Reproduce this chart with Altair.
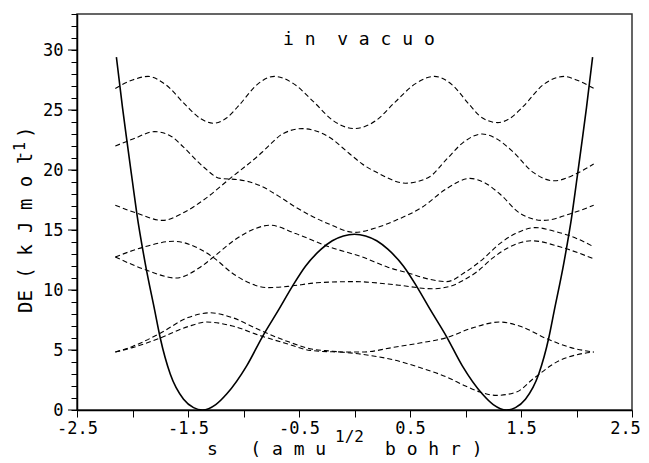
import altair as alt
import pandas as pd

NB = "\u00a0"

# ---------------- data ----------------
solid_s = [-2.145, -2.09, -2.05, -2.0, -1.96, -1.885, -1.80, -1.75, -1.66, -1.54, -1.45, -1.37,
           -1.25, -1.15, -0.97, -0.83, -0.68, -0.56, -0.44, -0.30, -0.20, -0.10, 0.0,
           0.10, 0.20, 0.30, 0.44, 0.56, 0.68, 0.83, 0.97, 1.15, 1.25, 1.37, 1.45, 1.54,
           1.66, 1.75, 1.80, 1.885, 1.96, 2.0, 2.05, 2.09, 2.145]
solid_E = [29.4, 25.2, 22.4, 19.0, 16.3, 12.2, 8.3, 6.0, 3.0, 0.9, 0.2, 0.0,
           0.45, 1.35, 3.7, 6.1, 8.4, 10.3, 12.0, 13.4, 14.1, 14.5, 14.64,
           14.5, 14.1, 13.4, 12.0, 10.3, 8.4, 6.1, 3.7, 1.35, 0.45, 0.0, 0.2, 0.9,
           3.0, 6.0, 8.3, 12.2, 16.3, 19.0, 22.4, 25.2, 29.4]

a_s = [-2.155, -2.0, -1.86, -1.7, -1.51, -1.39, -1.27, -1.15, -1.03, -0.88, -0.72, -0.55, -0.37,
       -0.19, 0.0, 0.19, 0.37, 0.55, 0.72, 0.88, 1.03, 1.15, 1.29, 1.40, 1.52, 1.7, 1.89, 2.0, 2.155]
a_E = [26.8, 27.5, 27.8, 27.1, 25.3, 24.3, 23.9, 24.35, 25.5, 27.1, 27.8, 27.2, 25.7,
       24.1, 23.45, 24.1, 25.7, 27.2, 27.8, 27.1, 25.5, 24.35, 23.95, 24.3, 25.3, 27.1, 27.8, 27.5, 26.8]

b_s = [-2.155, -1.99, -1.80, -1.65, -1.54, -1.36, -1.21, -1.05, -0.85, -0.68, -0.53, -0.23, 0.0,
       0.2, 0.37, 0.61, 0.83, 1.04, 1.18, 1.31, 1.49, 1.70, 1.96, 2.155]
b_E = [22.0, 22.6, 23.2, 22.8, 21.9, 20.25, 19.3, 19.2, 18.7, 17.8, 16.9, 15.5, 14.8,
       15.2, 15.8, 16.9, 18.45, 19.3, 18.9, 18.0, 16.4, 15.8, 16.4, 17.06]

c_s = [-2.155, -1.96, -1.73, -1.55, -1.36, -1.12, -0.83, -0.74, -0.65, -0.47, -0.23, -0.05, 0.07,
       0.22, 0.46, 0.67, 0.83, 0.98, 1.15, 1.28, 1.43, 1.61, 1.80, 2.0, 2.155]
c_E = [17.06, 16.4, 15.8, 16.4, 17.5, 19.3, 21.5, 22.3, 23.0, 23.45, 22.75, 21.4, 20.5,
       19.7, 18.9, 19.4, 20.9, 22.3, 23.0, 22.6, 21.5, 19.8, 19.1, 19.7, 20.5]

d_s = [-2.155, -1.89, -1.63, -1.39, -1.27, -1.1, -0.95, -0.79, -0.6, -0.34, 0.0, 0.4, 0.7,
       0.86, 0.98, 1.1, 1.25, 1.38, 1.6, 1.85, 2.155]
d_E = [12.75, 13.6, 14.06, 13.4, 12.7, 11.4, 10.6, 10.2, 10.3, 10.6, 10.7, 10.4, 10.1,
       10.3, 10.8, 11.5, 12.7, 13.5, 14.1, 13.6, 12.6]

g_s = [-2.155, -1.87, -1.61, -1.39, -1.27, -1.09, -0.90, -0.76, -0.53, -0.23, 0.07, 0.3, 0.49,
       0.65, 0.83, 1.0, 1.16, 1.3, 1.45, 1.63, 1.8, 2.0, 2.155]
g_E = [12.75, 11.64, 11.0, 11.9, 12.75, 14.1, 15.1, 15.4, 14.7, 13.6, 12.75, 11.9, 11.4,
       10.95, 10.7, 11.5, 12.6, 13.8, 14.7, 15.2, 14.9, 14.3, 13.6]

e_s = [-2.155, -2.0, -1.75, -1.5, -1.3, -1.1, -0.85, -0.6, -0.4, -0.2, 0.07, 0.37, 0.6, 0.83,
       1.0, 1.13, 1.28, 1.46, 1.61, 1.85, 2.0, 2.155]
e_E = [4.83, 5.3, 6.4, 7.7, 8.1, 7.7, 6.64, 5.7, 5.1, 4.9, 4.64, 4.14, 3.5, 2.75,
       2.0, 1.5, 1.22, 1.5, 2.6, 4.14, 4.6, 4.83]

f_s = [-2.155, -2.0, -1.75, -1.5, -1.33, -1.1, -0.85, -0.6, -0.4, -0.2, 0.07, 0.37, 0.6, 0.83,
       1.05, 1.31, 1.5, 1.73, 1.95, 2.155]
f_E = [4.83, 5.2, 6.0, 6.95, 7.33, 7.0, 6.2, 5.5, 4.97, 4.85, 4.83, 5.25, 5.6, 6.03,
       6.8, 7.33, 6.95, 5.95, 5.2, 4.83]

x_ticks = [-2.5, -2.0, -1.5, -1.0, -0.5, 0.0, 0.5, 1.0, 1.5, 2.0, 2.5]
y_ticks = list(range(0, 34))
y_major = [0, 5, 10, 15, 20, 25, 30]

title_text = NB.join(["i", "n", "", "v", "a", "c", "u", "o"])
xtitle_a = "s" + NB * 3 + "(" + NB + NB.join(["a", "m", "u"])
xtitle_sup = "1/2"
xtitle_b = NB.join(["b", "o", "h", "r", ")"])
ytitle_a = "DE" + NB + "(" + NB + NB.join(["k", "J", "m", "o", "l"])
ytitle_sup = "-1"
ytitle_c = ")"

# ---------------- build table ----------------
curves = [("solid", solid_s, solid_E), ("A", a_s, a_E), ("B", b_s, b_E), ("C", c_s, c_E),
          ("D", d_s, d_E), ("G", g_s, g_E), ("E", e_s, e_E), ("F", f_s, f_E)]
rows = []
for name, ss, ee in curves:
    assert len(ss) == len(ee), name
    for i, (s, e) in enumerate(zip(ss, ee)):
        rows.append({"curve": name, "s": s, "E": e, "i": i})
df = pd.DataFrame(rows)

FONT = "DejaVu Sans Mono"
xs = alt.Scale(domain=[-2.5, 2.5], nice=False, zero=False)
ys = alt.Scale(domain=[0, 33], nice=False, zero=False)

x_axis = alt.Axis(values=x_ticks, title=None, tickSize=7, labelPadding=3, labelFlush=False,
                  labelOverlap=False,
                  labelOffset={"condition": {"test": "datum.value > 2.4", "value": -7}, "value": 0},
                  labelExpr="abs(round(datum.value*2)) % 2 == 1 ? ((datum.value < 0 ? '-' : '') + format(abs(datum.value), '.1f')) : ''")
y_axis = alt.Axis(values=y_ticks, title=None, tickSize=6, labelPadding=8, labelFlush=False,
                  labelOverlap=False,
                  labelExpr="datum.value % 5 === 0 ? format(datum.value, 'd') : ''")

solid = alt.Chart(df[df.curve == "solid"]).mark_line(
    color="black", strokeWidth=1.6, interpolate="monotone"
).encode(
    x=alt.X("s:Q", scale=xs, axis=x_axis),
    y=alt.Y("E:Q", scale=ys, axis=y_axis),
    order="i:Q",
)

dashed = alt.Chart(df[df.curve != "solid"]).mark_line(
    color="black", strokeWidth=1.1, strokeDash=[5, 3], interpolate="monotone"
).encode(
    x=alt.X("s:Q", scale=xs, axis=x_axis),
    y=alt.Y("E:Q", scale=ys, axis=y_axis),
    detail="curve:N",
    order="i:Q",
)

major = alt.Chart(pd.DataFrame({"E": y_major})).mark_rule(color="black", strokeWidth=1).encode(
    y=alt.Y("E:Q", scale=ys, axis=y_axis),
    x=alt.value(-9),
    x2=alt.value(0),
)


def txt(t, x, y, size=18, angle=0):
    return alt.Chart(pd.DataFrame({"t": [t]})).mark_text(
        font=FONT, fontSize=size, color="black", align="left", baseline="alphabetic", angle=angle
    ).encode(text="t:N", x=alt.value(x), y=alt.value(y))


texts = [
    txt(title_text, 206, 31, 18),
    txt(xtitle_a, 130, 441, 18),
    txt(xtitle_sup, 258, 428, 16),
    txt(xtitle_b, 308, 441, 18),
    txt(ytitle_a, -45, 299, 19, 270),
    txt(ytitle_sup, -52, 146, 15, 270),
    txt(ytitle_c, -45, 124, 19, 270),
]

chart = alt.layer(dashed, solid, major, *texts).properties(
    width=555, height=396,
    autosize=alt.AutoSizeParams(type="none"),
    padding={"left": 69, "top": 6, "right": 9, "bottom": 55},
).configure_view(
    stroke="#333", strokeWidth=1.5
).configure_axis(
    domainColor="black", domainWidth=1.5, tickColor="black", tickWidth=1,
    labelColor="black", labelFont=FONT, labelFontSize=17, grid=False
)

chart.save("out.html", embed_options={"renderer": "svg", "actions": False})
